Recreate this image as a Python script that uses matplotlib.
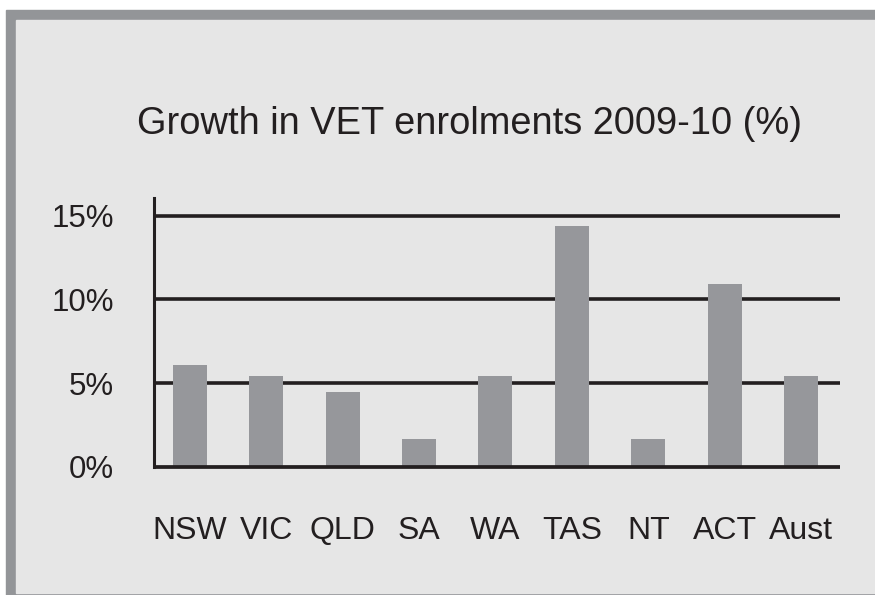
import matplotlib
matplotlib.use("Agg")
import matplotlib.pyplot as plt
from matplotlib.patches import Rectangle

# data
states = ["NSW", "VIC", "QLD", "SA", "WA", "TAS", "NT", "ACT", "Aust"]
growth = [6.1, 5.4, 4.5, 1.7, 5.4, 14.4, 1.7, 10.9, 5.4]
y_ticks = [0, 5, 10, 15]
y_tick_labels = ["0%", "5%", "10%", "15%"]
title = "Growth in VET enrolments 2009-10 (%)"

plt.rcParams['font.family'] = ['Liberation Sans', 'DejaVu Sans']

W, H = 875, 595
ink = "#231f20"
bar_grey = "#96979b"
frame_grey = "#939598"
panel = "#e6e6e6"

fig = plt.figure(figsize=(W / 100, H / 100), dpi=100, facecolor="white")

# frame: grey band on the left, top and bottom, light panel inside
fig.patches.append(Rectangle((6 / W, 0), 1 - 6 / W, (H - 10) / H,
                             transform=fig.transFigure, color=frame_grey, zorder=-10))
fig.patches.append(Rectangle((16 / W, 2 / H), 1 - 16 / W, (H - 22) / H,
                             transform=fig.transFigure, color=panel, zorder=-9))

ax = fig.add_axes([154 / W, (H - 467) / H, (840 - 154) / W, (467 - 198) / H])
ax.set_facecolor("none")
ax.set_zorder(2)

x = range(len(states))
ax.bar(x, growth, width=0.445, color=bar_grey, zorder=3)

ax.set_xlim(-0.47, 8.51)
ax.set_ylim(0, 16.05)

for v in y_ticks[1:]:
    ax.axhline(v, color=ink, lw=2.6, zorder=2)
ax.axhline(0, color=ink, lw=2.7, zorder=4, clip_on=False, solid_capstyle="butt")

for side in ["top", "right", "bottom"]:
    ax.spines[side].set_visible(False)
ax.spines["left"].set_color(ink)
ax.spines["left"].set_linewidth(2.2)

ax.set_yticks(y_ticks)
ax.set_yticklabels(y_tick_labels, fontsize=22.5, color=ink)
ax.set_xticks(list(x))
ax.set_xticklabels(states, fontsize=23, color=ink)
ax.tick_params(axis="y", length=0, pad=29)
ax.tick_params(axis="x", length=0, pad=35)

fig.text(469.5 / W, (H - 134) / H, title, fontsize=27.4, color=ink,
         ha="center", va="baseline")

fig.savefig("out.png", dpi=100, facecolor=fig.get_facecolor())
